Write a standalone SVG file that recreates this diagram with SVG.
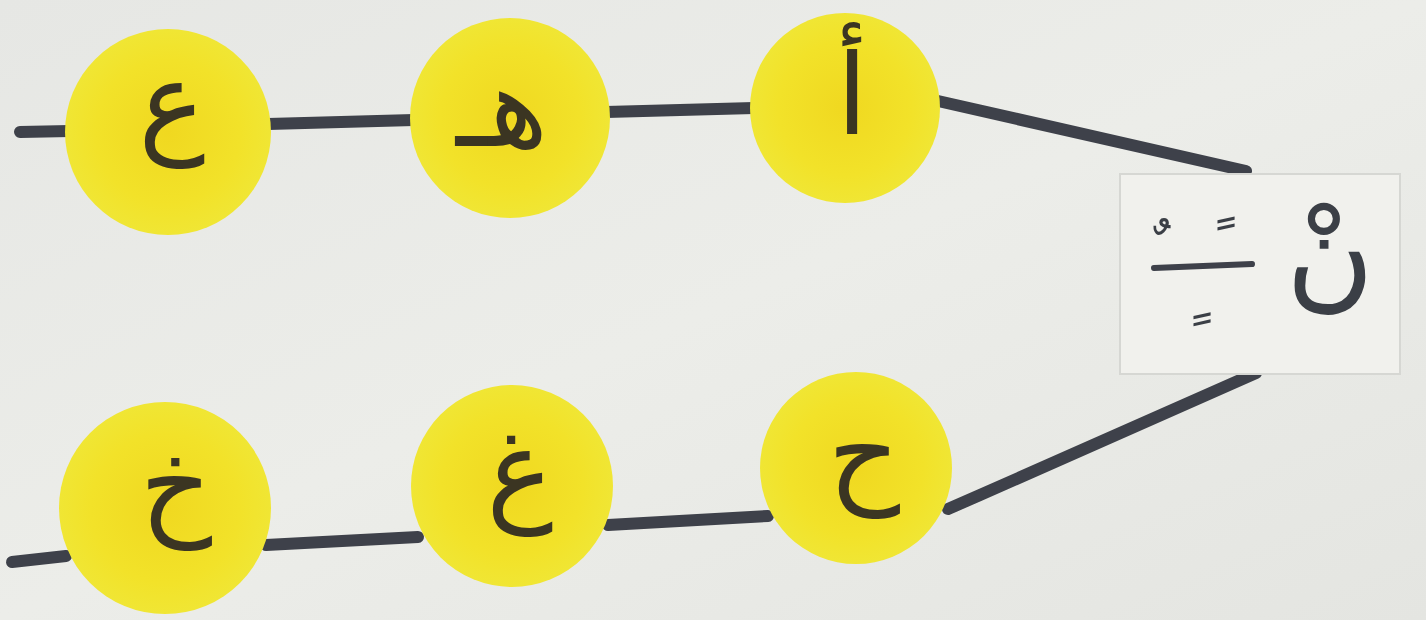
<svg xmlns="http://www.w3.org/2000/svg" width="1426" height="620" viewBox="0 0 1426 620">
<defs>
<linearGradient id="bg" x1="0" y1="0" x2="1" y2="1">
<stop offset="0" stop-color="#e6e7e4"/>
<stop offset="0.5" stop-color="#ecede9"/>
<stop offset="1" stop-color="#e4e5e1"/>
</linearGradient>
<radialGradient id="yel" cx="0.5" cy="0.5" r="0.5">
<stop offset="0" stop-color="#f0d820"/>
<stop offset="0.7" stop-color="#f2e229"/>
<stop offset="1" stop-color="#f0e634"/>
</radialGradient>
</defs>
<style>
.node circle{fill:url(#yel);}
.node text{font-family:"DejaVu Sans",sans-serif;font-size:112px;fill:#3b3522;text-anchor:middle;}
.conn line,.conn polyline{stroke:#3e414a;stroke-width:12;stroke-linecap:round;fill:none;}
.mark{font-family:"DejaVu Sans",sans-serif;fill:#3b3f46;text-anchor:middle;}
</style>
<rect width="1426" height="620" fill="url(#bg)"/>
<g class="conn">
<line x1="20" y1="132" x2="70" y2="131"/>
<line x1="268" y1="124" x2="414" y2="120"/>
<line x1="606" y1="112" x2="754" y2="108"/>
<line x1="938" y1="101" x2="1246" y2="171"/>
<line x1="12" y1="562" x2="66" y2="556"/>
<line x1="266" y1="545" x2="418" y2="537"/>
<line x1="608" y1="525" x2="768" y2="516"/>
<polyline points="948,509 980,495 1256,373"/>
</g>
<g id="n1" class="node"><circle cx="168" cy="132" r="103"/><text x="172" y="142">ع</text></g>
<g id="n2" class="node"><circle cx="510" cy="118" r="100"/><text x="502" y="146">هـ</text></g>
<g id="n3" class="node"><circle cx="845" cy="108" r="95"/><text x="852" y="134">أ</text></g>
<g id="n4" class="node"><circle cx="165" cy="508" r="106"/><text x="176" y="524">خ</text></g>
<g id="n5" class="node"><circle cx="512" cy="486" r="101"/><text x="520" y="510">غ</text></g>
<g id="n6" class="node"><circle cx="856" cy="468" r="96"/><text x="864" y="492">ح</text></g>
<g id="box">
<rect x="1120" y="174" width="280" height="200" fill="#f1f1ed" stroke="#d6d7d3" stroke-width="2"/>
<text class="mark" x="1330" y="296" font-size="120">نْ</text>
<line x1="1154" y1="268" x2="1252" y2="264" stroke="#3e414a" stroke-width="6" stroke-linecap="round"/>
<text class="mark" x="1162" y="270" font-size="60">ﹲ</text>
<text class="mark" x="1226" y="266" font-size="60">ﹰ</text>
<text class="mark" x="1202" y="312" font-size="60">ﹴ</text>
</g>
</svg>
